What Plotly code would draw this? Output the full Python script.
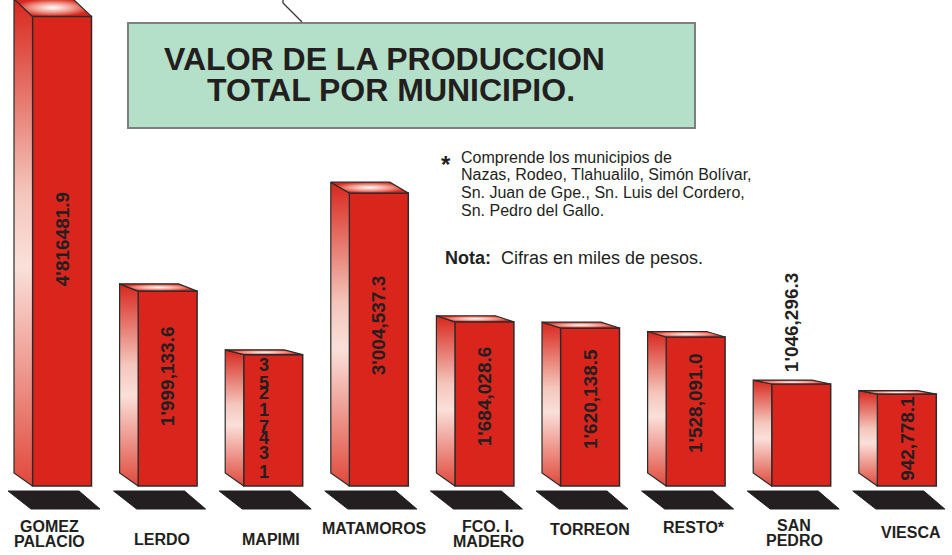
import plotly.graph_objects as go

# ---------------- data ----------------
categories = ["GOMEZ\nPALACIO", "LERDO", "MAPIMI", "MATAMOROS", "FCO. I.\nMADERO",
              "TORREON", "RESTO*", "SAN\nPEDRO", "VIESCA"]
values = [4816481.9, 1999133.6, 1347125.3, 3004537.3, 1684028.6,
          1620138.5, 1528091.0, 1046296.3, 942778.1]
value_labels = ["4'816481.9", "1'999,133.6", "", "3'004,537.3", "1'684,028.6",
                "1'620,138.5", "1'528,091.0", "1'046,296.3", "942,778.1"]
mapimi_stack = ["3", "5", "2", "1", "7", "'", "4", "3", "1"]
title_lines = ["VALOR DE LA PRODUCCION", "TOTAL POR MUNICIPIO."]
note_lines = ["Comprende los municipios de",
              "Nazas, Rodeo, Tlahualilo, Simón Bolívar,",
              "Sn. Juan de Gpe., Sn. Luis del Cordero,",
              "Sn. Pedro del Gallo."]

# ---------------- style / geometry ----------------
W, H = 952, 555
X0PX, STEP = 62, 105.6           # px of first category centre, px per category
BASE_PX, SCALE = 486, 0.0975     # baseline px, px per thousand pesos
HALF_W = 29.5                    # half front-face width (px)
DEPTH_X = 18.5                   # px the back edge is shifted left
PERSP = 0.037                    # top back edge rise per px of height
BACK_BOTTOM = 13                 # back bottom edge rise (px)
RED = "#DA251D"
EDGE = "#2B2B2B"
DARK = "#231F20"
FONT = "Arial, 'Liberation Sans', sans-serif"
label_inside = [True, True, True, True, True, True, True, False, True]
label_yshift = [12, 12, 0, 14, 8, 8, 8, 10, 2]
cat_y_px = [533.5, 539, 539, 528, 533.5, 529, 527, 533, 532]
cat_dx_px = [-13, -6, -2, -4, 4, 0, -2, -7, 4]
mapimi_rise_px = [121, 103, 93, 76, 59, 54, 48, 33, 14]


def dx(px):
    return px / STEP


def dy(px):
    return px / SCALE


vals_k = [v / 1000.0 for v in values]
n = len(categories)
xs = list(range(n))

fig = go.Figure()

# shadows
for i in xs:
    fig.add_trace(go.Scatter(
        x=[i + dx(-54), i + dx(17), i + dx(38), i + dx(-31), i + dx(-54)],
        y=[-dy(5), -dy(5), -dy(23), -dy(23), -dy(5)],
        mode="lines", fill="toself", fillcolor=DARK,
        line=dict(color=DARK, width=1), hoverinfo="skip"))

# front faces
fig.add_trace(go.Bar(
    x=xs, y=vals_k, width=2 * HALF_W / STEP,
    marker=dict(color=RED, line=dict(color=EDGE, width=1.5)),
    hoverinfo="skip"))

side_scale = [[0, "#E0493B"], [0.45, "#FAE0DA"], [0.6, "#F4C6BC"], [1, "#D8271D"]]
top_scale = [[0, "#FFFFFF"], [0.55, "#EE9487"], [1, "#D8271D"]]

for i, v in zip(xs, vals_k):
    h_px = v * SCALE
    rise = dy(PERSP * h_px)
    xl, xr = i - dx(HALF_W), i + dx(HALF_W)
    bx = dx(DEPTH_X)
    # left side face
    fig.add_trace(go.Scatter(
        x=[xl, xl - bx, xl - bx, xl, xl],
        y=[v, v + rise, dy(BACK_BOTTOM), 0, v],
        mode="lines", fill="toself",
        fillgradient=dict(type="vertical", colorscale=side_scale),
        line=dict(color=EDGE, width=1.2), hoverinfo="skip"))
    # top face
    fig.add_trace(go.Scatter(
        x=[xl, xr, xr - bx, xl - bx, xl],
        y=[v, v, v + rise, v + rise, v],
        mode="lines", fill="toself",
        fillgradient=dict(type="radial", colorscale=top_scale),
        line=dict(color=EDGE, width=1.2), hoverinfo="skip"))

annotations = []
# value labels
for i, v, lab, inside, ys in zip(xs, vals_k, value_labels, label_inside, label_yshift):
    if not lab:
        continue
    if inside:
        annotations.append(dict(x=i, y=v * 0.5, xref="x", yref="y", text=lab,
                                textangle=-90, showarrow=False, yshift=ys,
                                xanchor="center", yanchor="middle",
                                font=dict(family=FONT, size=19, color=DARK, weight="bold")))
    else:
        annotations.append(dict(x=i, y=v, xref="x", yref="y", text=lab,
                                textangle=-90, showarrow=False, xshift=-9, yshift=ys,
                                xanchor="center", yanchor="bottom",
                                font=dict(family=FONT, size=19, color=DARK, weight="bold")))

# Mapimi stacked label
for ch, r in zip(mapimi_stack, mapimi_rise_px):
    annotations.append(dict(x=2, y=0, xref="x", yref="y", text=ch, showarrow=False,
                            xshift=-9, yshift=r, xanchor="center", yanchor="middle",
                            font=dict(family=FONT, size=18, color=DARK, weight="bold")))

# category labels
for i, cat, cy, cdx in zip(xs, categories, cat_y_px, cat_dx_px):
    lines = cat.split("\n")
    k = len(lines)
    for j, ln in enumerate(lines):
        off = (j - (k - 1) / 2) * 15
        annotations.append(dict(x=i, y=1 - (cy + off) / H, xref="x", yref="paper",
                                text=ln, showarrow=False, xshift=cdx,
                                xanchor="center", yanchor="middle",
                                font=dict(family=FONT, size=16, color=DARK, weight="bold")))

# title
for ln, (tx, ty) in zip(title_lines, [(384, 59), (391, 90)]):
    annotations.append(dict(x=tx / W, y=1 - ty / H, xref="paper", yref="paper", text=ln,
                            showarrow=False, xanchor="center", yanchor="middle",
                            font=dict(family=FONT, size=32, color=DARK, weight="bold")))

# footnote
annotations.append(dict(x=446 / W, y=1 - 164 / H, xref="paper", yref="paper", text="*",
                        showarrow=False, xanchor="center", yanchor="middle",
                        font=dict(family=FONT, size=24, color=DARK, weight="bold")))
for ln, ty in zip(note_lines, [157, 174, 192, 210]):
    annotations.append(dict(x=459 / W, y=1 - ty / H, xref="paper", yref="paper", text=ln,
                            showarrow=False, xanchor="left", yanchor="middle",
                            font=dict(family=FONT, size=16, color=DARK)))
annotations.append(dict(x=443 / W, y=1 - 258 / H, xref="paper", yref="paper",
                        text="<b>Nota:</b>  Cifras en miles de pesos.",
                        showarrow=False, xanchor="left", yanchor="middle",
                        font=dict(family=FONT, size=18, color=DARK)))

shapes = [
    dict(type="rect", xref="paper", yref="paper",
         x0=128 / W, x1=695 / W, y0=1 - 128 / H, y1=1 - 23 / H,
         fillcolor="#B4DFC8", line=dict(color="#7F7F7F", width=2), layer="below"),
    dict(type="path", xref="paper", yref="paper",
         path=f"M {283 / W} {1.0} L {283 / W} {1 - 3 / H} L {302 / W} {1 - 22 / H}",
         line=dict(color="#333333", width=1.3)),
]

fig.update_layout(
    width=W, height=H, margin=dict(l=0, r=0, t=0, b=0),
    paper_bgcolor="white", plot_bgcolor="white", showlegend=False,
    xaxis=dict(range=[-X0PX / STEP, (W - X0PX) / STEP], visible=False, fixedrange=True),
    yaxis=dict(range=[-dy(H - BASE_PX), dy(BASE_PX)], visible=False, fixedrange=True),
    annotations=annotations, shapes=shapes, hovermode=False,
)

fig.write_html("out.html", config={"displayModeBar": False},
               post_script="document.body.style.margin='0';document.body.style.overflow='hidden';")
